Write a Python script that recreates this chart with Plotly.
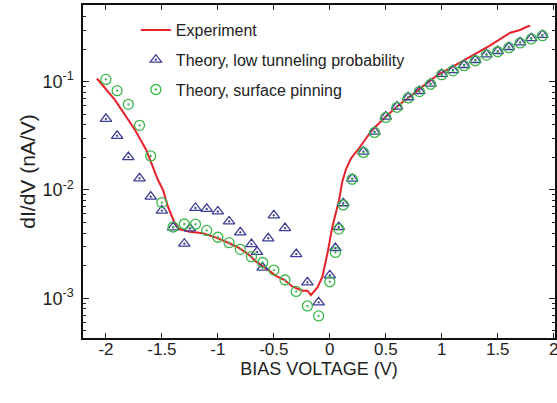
import plotly.graph_objects as go

# Experiment (red line)
exp_x = [-2.08, -1.92, -1.74, -1.64, -1.535, -1.49, -1.446, -1.386, -1.342, -1.253, -1.134,
         -1.015, -0.897, -0.808, -0.719, -0.659, -0.570, -0.481, -0.407, -0.333, -0.244,
         -0.20, -0.169, -0.110, -0.066, -0.021, 0.023, 0.06, 0.083, 0.112, 0.145, 0.190,
         0.261, 0.379, 0.499, 0.617, 0.736, 0.85, 0.973, 1.09, 1.196, 1.28, 1.359, 1.43,
         1.508, 1.56, 1.612, 1.66, 1.70, 1.75, 1.79]
exp_y = [0.107, 0.0678, 0.0358, 0.0234, 0.01236, 0.0100, 0.00701, 0.00493, 0.00434, 0.00412,
         0.00398, 0.00363, 0.00322, 0.00290, 0.00251, 0.00218, 0.00189, 0.00161, 0.00148,
         0.00128, 0.001175, 0.001175, 0.00107, 0.00126, 0.00158, 0.0026, 0.00458, 0.0068,
         0.0081, 0.01200, 0.01560, 0.01960, 0.02427, 0.0358, 0.0475, 0.0610, 0.0753, 0.094,
         0.117, 0.136, 0.156, 0.176, 0.196, 0.215, 0.243, 0.262, 0.283, 0.292, 0.300, 0.318,
         0.329]

# Theory, low tunneling probability (triangles)
low_x = [-2.0, -1.9, -1.8, -1.7, -1.6, -1.5, -1.4, -1.3, -1.25, -1.2, -1.1, -1.0, -0.9, -0.8,
         -0.7, -0.65, -0.6, -0.55, -0.5, -0.4, -0.3, -0.2, -0.1, 0.0, 0.05, 0.08, 0.12, 0.2,
         0.3, 0.4, 0.5, 0.6, 0.7, 0.8, 0.9, 1.0, 1.1, 1.2, 1.3, 1.4, 1.5, 1.6, 1.7, 1.8, 1.9]
low_y = [0.0453, 0.0316, 0.0201, 0.0128, 0.00867, 0.00644, 0.00451, 0.00319, 0.00441, 0.00682,
         0.00668, 0.00633, 0.00512, 0.00406, 0.00316, 0.00268, 0.00192, 0.00358, 0.00583,
         0.00444, 0.00256, 0.00140, 0.000915, 0.00163, 0.00291, 0.00455, 0.00754, 0.0127,
         0.0226, 0.0345, 0.0475, 0.0588, 0.0718, 0.082, 0.0959, 0.1178, 0.128, 0.1426, 0.1585,
         0.179, 0.192, 0.209, 0.231, 0.252, 0.270]

# Theory, surface pinning (circles)
pin_x = [-2.0, -1.9, -1.8, -1.7, -1.6, -1.5, -1.4, -1.3, -1.2, -1.1, -1.0, -0.9, -0.8, -0.7,
         -0.6, -0.5, -0.4, -0.3, -0.2, -0.1, 0.0, 0.05, 0.08, 0.12, 0.2, 0.3, 0.4, 0.5, 0.6,
         0.7, 0.8, 0.9, 1.0, 1.1, 1.2, 1.3, 1.4, 1.5, 1.6, 1.7, 1.8, 1.9]
pin_y = [0.105, 0.0826, 0.0618, 0.0395, 0.0206, 0.00764, 0.00455, 0.00485, 0.00483, 0.00423,
         0.00366, 0.00326, 0.00283, 0.00242, 0.00214, 0.00182, 0.001475, 0.001156, 0.000849,
         0.000687, 0.00142, 0.00265, 0.00435, 0.00728, 0.01256, 0.0222, 0.0340, 0.0468,
         0.0580, 0.0708, 0.081, 0.0946, 0.116, 0.126, 0.1405, 0.156, 0.176, 0.189, 0.206,
         0.228, 0.248, 0.266]

x_ticks = [-2, -1.5, -1, -0.5, 0, 0.5, 1, 1.5, 2]
x_ticktext = ["-2", "-1.5", "-1", "-0.5", "0", "0.5", "1", "1.5", "2"]
y_ticks = [0.001, 0.01, 0.1]
y_ticktext = ["10<sup>-3</sup>", "10<sup>-2</sup>", "10<sup>-1</sup>"]

FONT = "Liberation Sans, Arial, sans-serif"
TXT = "#222222"

fig = go.Figure()
fig.add_trace(go.Scatter(x=exp_x, y=exp_y, mode="lines", name="Experiment",
                         line=dict(color="#e8202a", width=2), legendgroup="a"))
fig.add_trace(go.Scatter(x=low_x, y=low_y, mode="markers",
                         name="Theory, low tunneling probability", legendgroup="b",
                         marker=dict(symbol="triangle-up-open-dot", size=10, color="#3c3c96",
                                     line=dict(width=1.3, color="#3c3c96"))))
fig.add_trace(go.Scatter(x=pin_x, y=pin_y, mode="markers",
                         name="Theory, surface pinning", legendgroup="c",
                         marker=dict(symbol="circle-open-dot", size=10, color="#3cb64a",
                                     line=dict(width=1.3, color="#3cb64a"))))

minor_vals = [m * 10.0 ** e for e in (-4, -3, -2, -1) for m in range(2, 10)]

fig.update_layout(
    width=557, height=403,
    margin=dict(l=83, r=2, t=5, b=65, autoexpand=False),
    paper_bgcolor="white", plot_bgcolor="white",
    font=dict(family=FONT, color=TXT, size=17),
    showlegend=True,
    legend=dict(x=0.112, y=0.976, xanchor="left", yanchor="top",
                bgcolor="rgba(0,0,0,0)", font=dict(size=16, color=TXT),
                traceorder="grouped", tracegroupgap=6),
    xaxis=dict(range=[-2.205, 2.012], tickvals=x_ticks, ticktext=x_ticktext,
               ticks="inside", ticklen=5, tickwidth=1, tickcolor="#222",
               showline=True, linecolor="#111", linewidth=1.5, mirror="ticks",
               showgrid=False, zeroline=False, tickfont=dict(size=17), automargin=False,
               ticklabeloverflow="allow", ticklabelstandoff=-5,
               title=dict(text="BIAS VOLTAGE (V)", font=dict(size=18), standoff=2)),
    yaxis=dict(type="log", range=[-3.367, -0.292], tickvals=y_ticks, ticktext=y_ticktext,
               ticks="inside", ticklen=6, tickwidth=1, tickcolor="#222",
               showline=True, linecolor="#111", linewidth=1.5, mirror="ticks",
               showgrid=False, zeroline=False, tickfont=dict(size=18), automargin=False,
               ticklabeloverflow="allow", ticklabelstandoff=4,
               minor=dict(tickvals=minor_vals, ticks="inside", ticklen=3, tickcolor="#222",
                          showgrid=False),
               title=dict(text="dI/dV (nA/V)", font=dict(size=21), standoff=1)),
)

fig.write_html("out.html", config={"displayModeBar": False},
               post_script="document.body.style.margin='0';")
